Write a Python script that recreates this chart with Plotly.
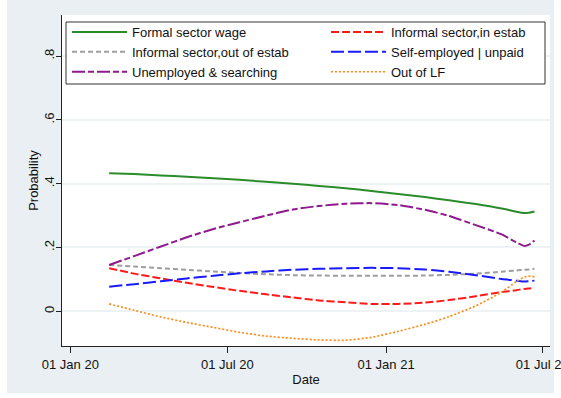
import plotly.graph_objects as go

# Survey dates and predicted probabilities for each labour-market state
dates = ["2020-02-15", "2020-03-15", "2020-04-15", "2020-05-15", "2020-06-15",
         "2020-07-15", "2020-08-15", "2020-09-15", "2020-10-15", "2020-11-15",
         "2020-12-15", "2021-01-15", "2021-02-15", "2021-03-15", "2021-04-15",
         "2021-05-15", "2021-06-01", "2021-06-10", "2021-06-15", "2021-06-22"]

formal_wage = [.433, .430, .426, .422, .417, .412, .406, .400, .393, .386,
               .377, .368, .358, .348, .336, .322, .312, .308, .309, .313]
informal_in_estab = [.135, .118, .103, .089, .076, .064, .053, .043, .034, .028,
                     .023, .023, .027, .035, .047, .060, .066, .070, .071, .074]
informal_out_estab = [.145, .140, .135, .130, .125, .120, .116, .113, .112, .111,
                      .111, .111, .112, .114, .118, .124, .128, .130, .131, .133]
self_employed = [.077, .085, .094, .103, .111, .119, .125, .130, .133, .135,
                 .136, .135, .131, .124, .113, .101, .096, .093, .094, .096]
unemployed = [.145, .173, .203, .232, .258, .279, .300, .319, .330, .337,
              .339, .333, .318, .299, .270, .241, .216, .205, .208, .222]
out_of_lf = [.023, .003, -.018, -.035, -.051, -.066, -.078, -.085, -.090, -.091,
             -.082, -.063, -.041, -.017, .017, .060, .093, .107, .110, .108]

x_tick_vals = ["2020-01-01", "2020-07-01", "2021-01-01", "2021-07-01"]
x_tick_text = ["01 Jan 20", "01 Jul 20", "01 Jan 21", "01 Jul 21"]
y_tick_vals = [0, 0.2, 0.4, 0.6, 0.8]
y_tick_text = ["0", ".2", ".4", ".6", ".8"]

# name, values, colour, dash, width, legend column
series = [
    ("Formal sector wage", formal_wage, "#2a8c2a", "solid", 2.0, "legend"),
    ("Informal sector,in estab", informal_in_estab, "#ff1a1a", "8px,3px", 2.0, "legend2"),
    ("Informal sector,out of estab", informal_out_estab, "#9e9e9e", "5px,3px", 2.0, "legend"),
    ("Self-employed | unpaid", self_employed, "#1a1aff", "13px,4px", 2.0, "legend2"),
    ("Unemployed & searching", unemployed, "#8e1a8e", "13px,3px,6px,3px", 2.0, "legend"),
    ("Out of LF", out_of_lf, "#ff8c1a", "2px,2px", 1.7, "legend2"),
]

FONT = "Liberation Sans, Arial, sans-serif"
fig = go.Figure()
for name, vals, color, dash, width, leg in series:
    fig.add_trace(go.Scatter(
        x=dates, y=vals, name=name, mode="lines", legend=leg,
        line=dict(color=color, dash=dash, width=width, shape="spline", smoothing=0.6),
    ))

W, H = 561, 398
L, R, T, B = 62, 11, 15, 52
pw, ph = W - L - R, H - T - B

def px_x(p):
    return (p - L) / pw

def px_y(p):
    return (H - B - p) / ph

shapes = [
    # graph region
    dict(type="rect", xref="paper", yref="paper", layer="below",
         x0=px_x(7), x1=px_x(554), y0=px_y(393), y1=px_y(0),
         fillcolor="#e9eff2", line=dict(width=0)),
    # plot region
    dict(type="rect", xref="paper", yref="paper", layer="below",
         x0=0, x1=1, y0=0, y1=1, fillcolor="white", line=dict(width=0)),
    # legend frame
    dict(type="rect", xref="paper", yref="paper", layer="above",
         x0=px_x(66), x1=px_x(545), y0=px_y(84), y1=px_y(22),
         fillcolor="white", line=dict(color="#333", width=1)),
]

legend_common = dict(
    orientation="v", xanchor="left", yanchor="top",
    bgcolor="rgba(0,0,0,0)", borderwidth=0, itemwidth=55,
    font=dict(family=FONT, size=13, color="#111"),
    traceorder="normal",
)

fig.update_layout(
    width=W, height=H,
    margin=dict(l=L, r=R, t=T, b=B, autoexpand=False),
    paper_bgcolor="white", plot_bgcolor="white",
    font=dict(family=FONT, size=13, color="#111"),
    shapes=shapes,
    legend=dict(x=px_x(67), y=px_y(17), **legend_common),
    legend2=dict(x=px_x(326), y=px_y(17), **legend_common),
    xaxis=dict(
        type="date", range=["2019-12-22 08:00", "2021-07-10"],
        tickvals=x_tick_vals, ticktext=x_tick_text,
        showgrid=False, zeroline=False,
        showline=True, linecolor="#222", linewidth=1.3,
        ticks="outside", ticklen=6, tickcolor="#222", tickwidth=1,
        tickfont=dict(size=13), ticklabeloverflow="allow",
        title=dict(text="Date", font=dict(size=13), standoff=4),
    ),
    yaxis=dict(
        range=[-0.109, 0.929],
        tickvals=y_tick_vals, ticktext=y_tick_text, tickangle=-90,
        showgrid=True, gridcolor="#edf3f4", gridwidth=1.5, zeroline=False,
        showline=True, linecolor="#222", linewidth=1.3,
        ticks="outside", ticklen=5, tickcolor="#222", tickwidth=1,
        tickfont=dict(size=13), ticklabelstandoff=-3,
        title=dict(text="Probability", font=dict(size=13), standoff=0),
    ),
)

fig.write_html("out.html")
